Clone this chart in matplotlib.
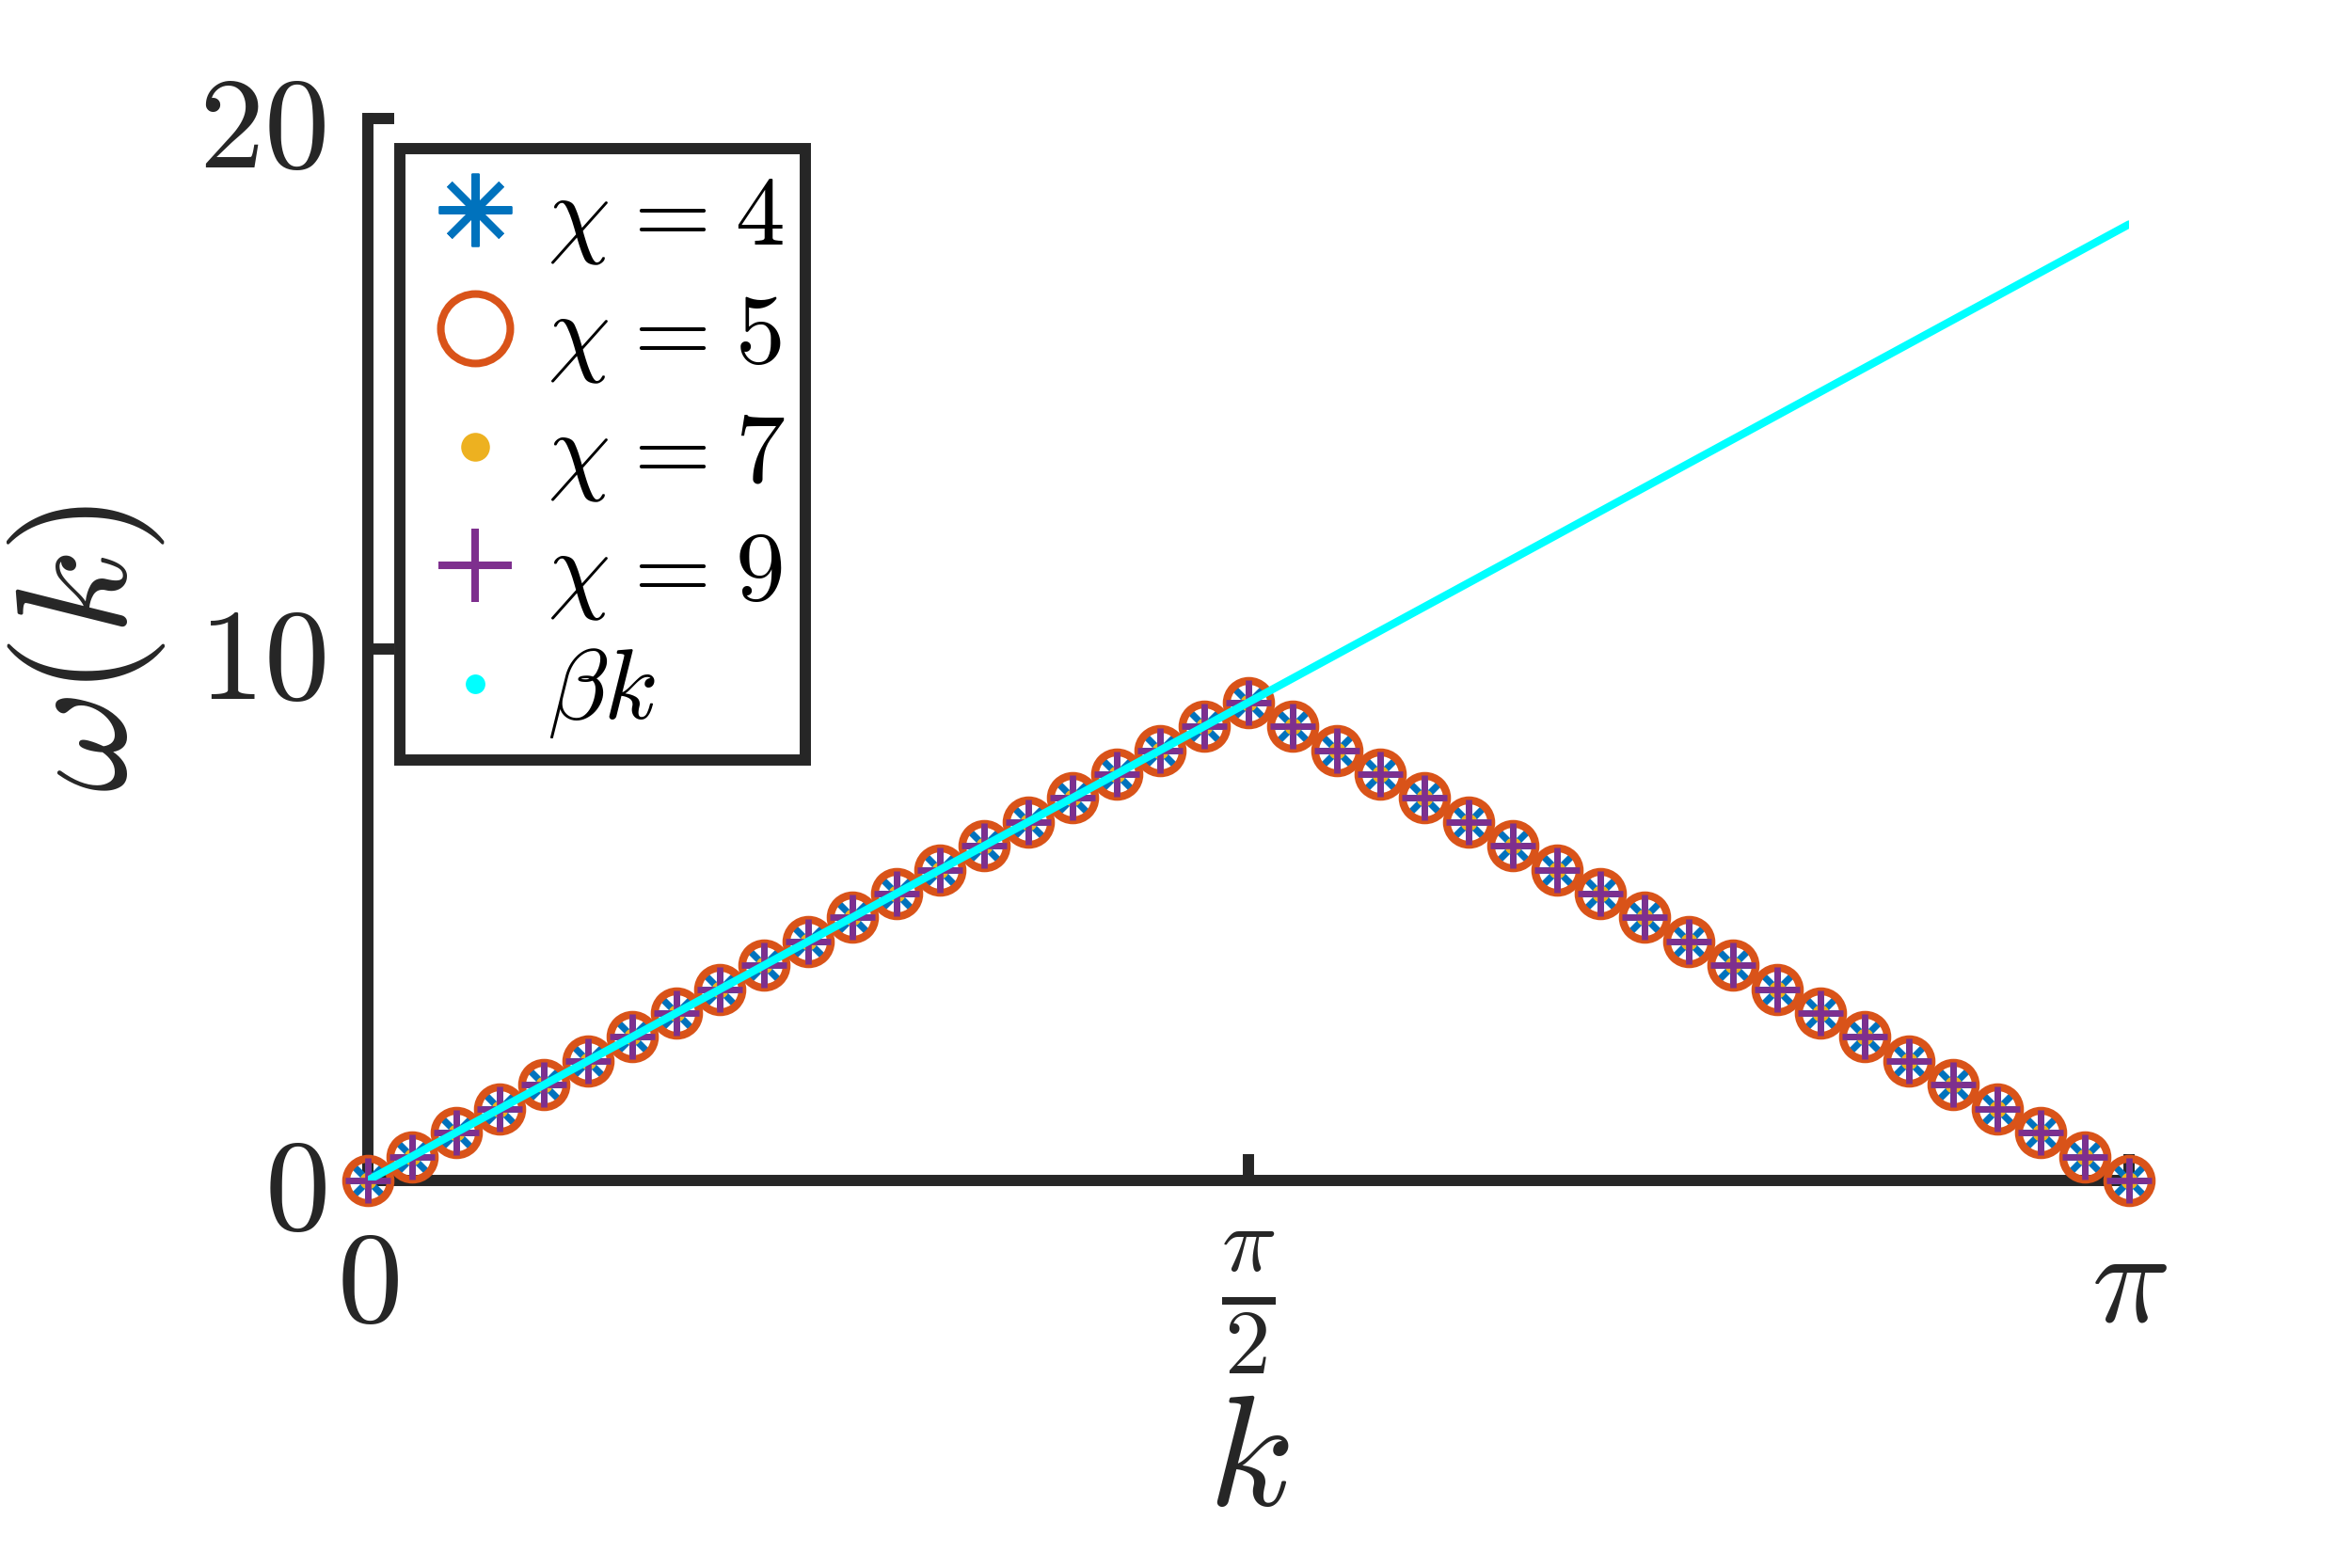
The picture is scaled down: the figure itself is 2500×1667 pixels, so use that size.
import numpy as np
import matplotlib
matplotlib.use("Agg")
import matplotlib.pyplot as plt
from matplotlib.lines import Line2D

plt.rcParams['mathtext.fontset'] = 'cm'
plt.rcParams['font.family'] = ['DejaVu Serif']

# data (41 k-points from 0 to pi)
k = np.linspace(0, np.pi, 41)
omega = [0.00, 0.45, 0.90, 1.35, 1.80, 2.25, 2.70, 3.15, 3.60, 4.05,
         4.50, 4.95, 5.40, 5.85, 6.30, 6.75, 7.20, 7.65, 8.10, 8.55,
         9.00,
         8.55, 8.10, 7.65, 7.20, 6.75, 6.30, 5.85, 5.40, 4.95, 4.50,
         4.05, 3.60, 3.15, 2.70, 2.25, 1.80, 1.35, 0.90, 0.45, 0.00]
beta_k_x = [0, np.pi]
beta_k_y = [0, 18.0]

labels = [r'$\chi\hspace{0.08}=\hspace{0.08}4$', r'$\chi\hspace{0.08}=\hspace{0.08}5$',
          r'$\chi\hspace{0.08}=\hspace{0.08}7$', r'$\chi\hspace{0.08}=\hspace{0.08}9$', r'$\beta k$']
xtick_pos = [0, np.pi / 2, np.pi]
xtick_labels = [r'$0$', r'$\frac{\pi}{2}$', r'$\pi$']
ytick_pos = [0, 10, 20]
ytick_labels = [r'$0$', r'$10$', r'$20$']

c_blue = '#0072BD'
c_orange = '#D95319'
c_yellow = '#EDB120'
c_purple = '#7E2F8E'
c_cyan = '#00FFFF'
dark = '#262626'
asterisk = (8, 2, 0)

fig = plt.figure(figsize=(12.5, 8.335), dpi=200)
ax = fig.add_axes([0.1564, 0.2472, 0.7488, 0.6775])

ax.plot(k, omega, ls='none', marker=asterisk, ms=19, mec=c_blue, mew=2.4, clip_on=False, zorder=3)
ax.plot(k, omega, ls='none', marker='o', ms=17, mfc='none', mec=c_orange, mew=3.0, clip_on=False, zorder=3)
ax.plot(k, omega, ls='none', marker='.', ms=13, color=c_yellow, mew=0, clip_on=False, zorder=3)
ax.plot(k, omega, ls='none', marker='+', ms=17, mec=c_purple, mew=2.4, clip_on=False, zorder=3)
ax.plot(beta_k_x, beta_k_y, color=c_cyan, lw=3.0, zorder=4, solid_capstyle='round')

ax.set_xlim(0, np.pi)
ax.set_ylim(0, 20)
for s in ['top', 'right']:
    ax.spines[s].set_visible(False)
for s in ['left', 'bottom']:
    ax.spines[s].set_linewidth(4.3)
    ax.spines[s].set_color(dark)
    ax.spines[s].set_capstyle('projecting')

ax.set_xticks(xtick_pos)
ax.set_xticklabels(xtick_labels)
ax.set_yticks(ytick_pos)
ax.set_yticklabels(ytick_labels)
ax.tick_params(direction='in', length=10, width=4.3, color=dark, labelcolor=dark, labelsize=50)
ax.tick_params(axis='x', pad=54)
ax.tick_params(axis='y', pad=16)
plt.setp(ax.get_xticklabels(), va='baseline')
ax.minorticks_off()

ax.set_xlabel(r'$k$', fontsize=60, color=dark, labelpad=4)
ax.set_ylabel(r'$\omega(k)$', fontsize=60, color=dark, labelpad=12)

handles = [
    Line2D([], [], ls='none', marker=asterisk, ms=28, mec=c_blue, mew=2.9),
    Line2D([], [], ls='none', marker='o', ms=26.6, mfc='none', mec=c_orange, mew=2.9),
    Line2D([], [], ls='none', marker='.', ms=22, color=c_yellow, mew=0),
    Line2D([], [], ls='none', marker='+', ms=28, mec=c_purple, mew=2.9),
    Line2D([], [], ls='none', marker='.', ms=15, color=c_cyan, mew=0),
]
leg = ax.legend(handles, labels, loc='upper left', bbox_to_anchor=(0.0184, 0.971),
                borderaxespad=0, fontsize=38, fancybox=False, framealpha=1,
                edgecolor=dark, borderpad=0.2, labelspacing=0.2,
                handlelength=1.1, handletextpad=0.18, handleheight=0.7)
leg.get_frame().set_linewidth(4.3)
leg.set_zorder(5)

fig.savefig('out.png', dpi=200, facecolor='white')
